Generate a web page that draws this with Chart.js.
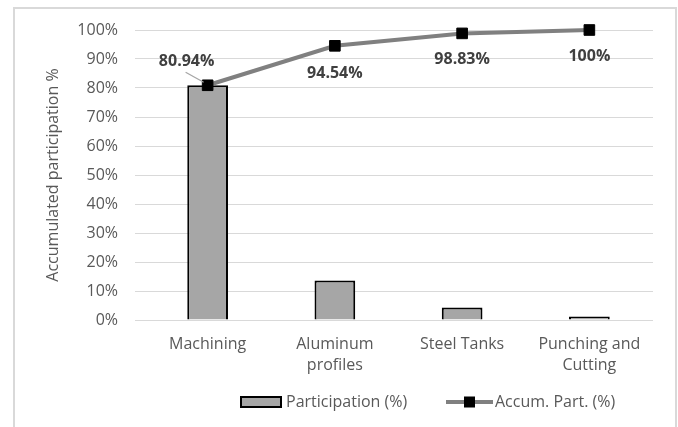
<!DOCTYPE html>
<html>
<head>
<meta charset="utf-8">
<script src="https://cdn.jsdelivr.net/npm/chart.js@4/dist/chart.umd.min.js"></script>
<style>
  html, body { margin: 0; padding: 0; background: #ffffff; }
  canvas { display: block; }
</style>
</head>
<body>
<canvas id="pareto" width="678" height="427"></canvas>
<script>
// Process categories (multi-line labels as arrays)
const categories = ['Machining', ['Aluminum', 'profiles'], 'Steel Tanks', ['Punching and', 'Cutting']];
// Share of each process (%)
const participation = [80.94, 13.60, 4.29, 1.17];
// Running total of the shares (%)
const accumulated = [80.94, 94.54, 98.83, 100];
// Value axis ticks
const yTicks = [0, 10, 20, 30, 40, 50, 60, 70, 80, 90, 100];

const FONT = '"Open Sans", "Liberation Sans", sans-serif';
const TEXT = '#595959';
const GRID = '#d9d9d9';
const BAR_FILL = '#a6a6a6';
const LINE_COL = '#808080';

// Offsets of the running-total labels from their points
const labelOffsets = [[-21, -24], [0, 28], [0, 26], [0, 26]];

function fmtPct(v) {
  return (Math.round(v * 100) / 100).toString() + '%';
}

const decorations = {
  id: 'decorations',
  beforeDraw(chart) {
    const ctx = chart.ctx;
    ctx.save();
    ctx.fillStyle = '#ffffff';
    ctx.fillRect(0, 0, chart.width, chart.height);
    // frame around the chart
    ctx.strokeStyle = GRID;
    ctx.lineWidth = 2;
    ctx.strokeRect(14, 8, 662, 440);
    ctx.restore();
  },
  afterDraw(chart) {
    const ctx = chart.ctx;
    const meta = chart.getDatasetMeta(0);
    ctx.save();
    // running-total labels
    ctx.font = 'bold 16px ' + FONT;
    ctx.fillStyle = '#404040';
    ctx.textAlign = 'center';
    ctx.textBaseline = 'middle';
    meta.data.forEach((pt, i) => {
      const [dx, dy] = labelOffsets[i];
      ctx.fillText(fmtPct(accumulated[i]), pt.x + dx, pt.y + dy);
    });
    // leader line for the first label
    const p0 = meta.data[0];
    ctx.strokeStyle = '#a6a6a6';
    ctx.lineWidth = 1.3;
    ctx.beginPath();
    ctx.moveTo(p0.x - 22, p0.y - 13);
    ctx.lineTo(p0.x - 4, p0.y - 3);
    ctx.stroke();

    // legend
    const ly = 402;
    ctx.font = '16px ' + FONT;
    ctx.textAlign = 'left';
    ctx.textBaseline = 'middle';
    ctx.fillStyle = BAR_FILL;
    ctx.fillRect(241, 397, 40, 10);
    ctx.strokeStyle = '#000000';
    ctx.lineWidth = 2;
    ctx.strokeRect(241, 397, 40, 10);
    ctx.fillStyle = TEXT;
    ctx.fillText(chart.data.datasets[1].label, 286, ly);

    ctx.strokeStyle = LINE_COL;
    ctx.lineWidth = 4;
    ctx.beginPath();
    ctx.moveTo(446, ly);
    ctx.lineTo(493, ly);
    ctx.stroke();
    ctx.fillStyle = '#000000';
    ctx.fillRect(464, ly - 5.5, 11, 11);
    ctx.fillStyle = TEXT;
    ctx.fillText(chart.data.datasets[0].label, 495, ly);
    ctx.restore();
  }
};

new Chart(document.getElementById('pareto'), {
  data: {
    labels: categories,
    datasets: [
      {
        type: 'line',
        label: 'Accum. Part. (%)',
        data: accumulated,
        borderColor: LINE_COL,
        borderWidth: 4,
        pointStyle: 'rect',
        pointRadius: 7.5,
        pointBackgroundColor: '#000000',
        pointBorderColor: '#000000',
        pointBorderWidth: 1,
        tension: 0,
        clip: false,
        order: 0
      },
      {
        type: 'bar',
        label: 'Participation (%)',
        data: participation,
        backgroundColor: BAR_FILL,
        borderColor: '#000000',
        borderWidth: 2,
        categoryPercentage: 1,
        barPercentage: 0.32,
        order: 1
      }
    ]
  },
  options: {
    responsive: false,
    animation: false,
    devicePixelRatio: 1,
    layout: { padding: { left: 0, right: 25, top: 30, bottom: 0 } },
    plugins: {
      legend: { display: false },
      tooltip: { enabled: false }
    },
    scales: {
      x: {
        grid: { display: false, drawTicks: false },
        border: { display: false },
        ticks: {
          color: TEXT,
          font: { family: FONT, size: 16, lineHeight: 1.3 },
          padding: 14,
          maxRotation: 0,
          autoSkip: false
        },
        afterFit(scale) { scale.height = 107; }
      },
      y: {
        min: 0,
        max: 100,
        afterBuildTicks(scale) { scale.ticks = yTicks.map(v => ({ value: v })); },
        grid: { color: GRID, lineWidth: 1, drawTicks: true, tickLength: 9 },
        border: { display: false },
        ticks: {
          color: TEXT,
          font: { family: FONT, size: 16 },
          padding: 17,
          callback: v => v + '%'
        },
        title: {
          display: true,
          text: 'Accumulated participation %',
          color: TEXT,
          font: { family: FONT, size: 16 },
          padding: { top: 44, bottom: 0 }
        },
        afterFit(scale) { scale.width = 144; }
      }
    }
  },
  plugins: [decorations]
});
</script>
</body>
</html>
